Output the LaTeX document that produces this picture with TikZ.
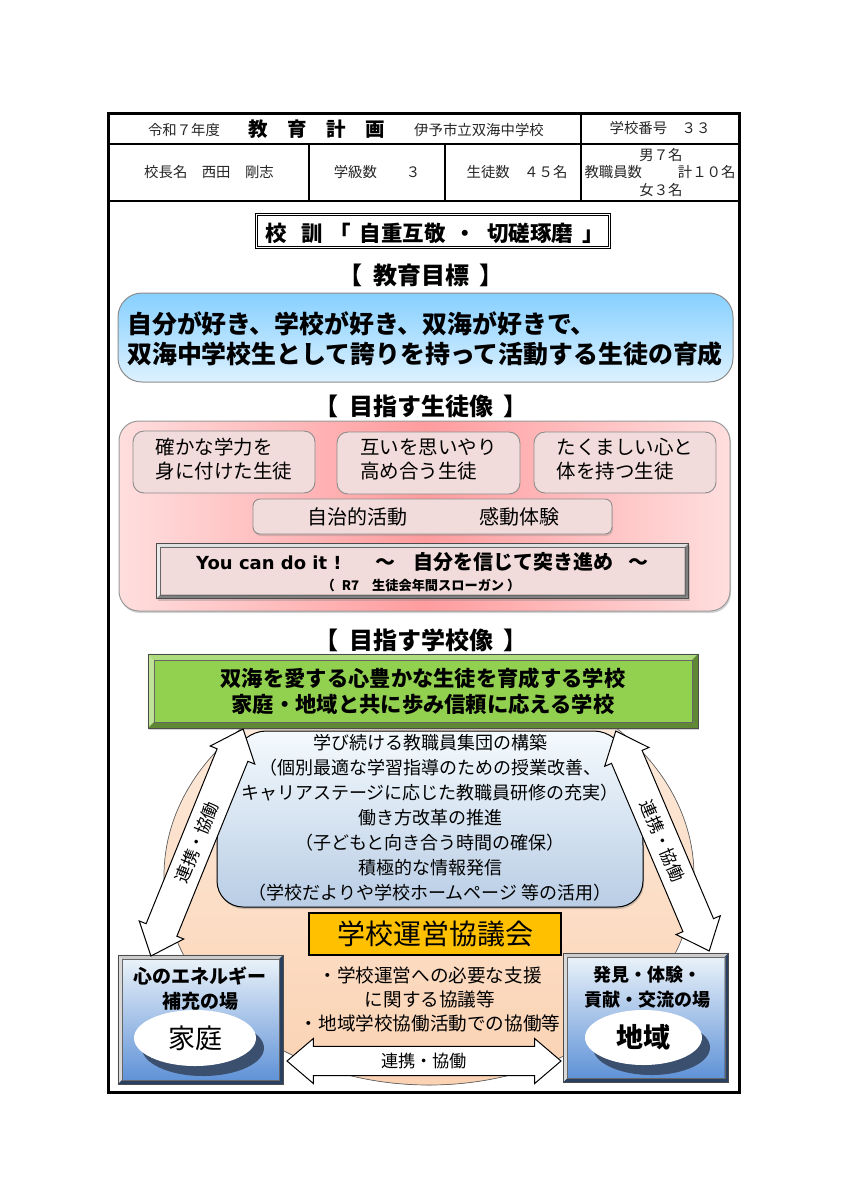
\documentclass[tikz,border=0pt]{standalone}
\usepackage{fontspec}
\setmainfont{Noto Sans CJK JP}
\newfontfamily\widelatin{DejaVu Sans}
\usetikzlibrary{calc,positioning,shadows,shapes.geometric,shapes.arrows}

\definecolor{goaltop}{HTML}{86D0FF}
\definecolor{goalbot}{HTML}{DDF1FF}
\definecolor{pinkedge}{HTML}{FFDEDE}
\definecolor{pinkmid}{HTML}{FF9C9E}
\definecolor{softpink}{HTML}{F2DCDB}
\definecolor{leafgreen}{HTML}{92D050}
\definecolor{peachtop}{HTML}{FDEDE0}
\definecolor{peachbot}{HTML}{FBD2B2}
\definecolor{steeltop}{HTML}{F4FAFD}
\definecolor{steelbot}{HTML}{B9CDE5}
\definecolor{placetop}{HTML}{EEF5FA}
\definecolor{placebot}{HTML}{5B8FD6}
\definecolor{amber}{HTML}{FFC000}
\definecolor{ovalshade}{HTML}{3B4F6E}

% four slanted edges round a named box
\newcommand{\bevelframe}[5]{
    \fill[#3] (#1.north west) -- (#1.north east) -- ($(#1.north east)+(-#2,#2)$) -- ($(#1.north west)+(#2,#2)$) -- cycle;
    \fill[#4] (#1.north west) -- (#1.south west) -- ($(#1.south west)+(#2,-#2)$) -- ($(#1.north west)+(#2,#2)$) -- cycle;
    \fill[#5] (#1.south west) -- (#1.south east) -- ($(#1.south east)+(-#2,-#2)$) -- ($(#1.south west)+(#2,-#2)$) -- cycle;
    \fill[#5] (#1.north east) -- (#1.south east) -- ($(#1.south east)+(-#2,-#2)$) -- ($(#1.north east)+(-#2,#2)$) -- cycle;
    \draw[black!70,line width=.6pt] (#1.north west) rectangle (#1.south east);
    \draw[black!60,line width=.4pt] ($(#1.north west)+(#2,#2)$) rectangle ($(#1.south east)+(-#2,-#2)$);
}

\begin{document}
\begin{tikzpicture}[x=1pt,y=-1pt,
  every node/.style={inner sep=0pt,align=center},
  cell/.style={font=\fontsize{14.4}{18}\selectfont,text=black!85},
  heading/.style={font=\fontsize{24}{26}\selectfont\bfseries},
  goalbox/.style={draw=black!45,line width=1pt,rounded corners=24pt,top color=goaltop,bottom color=goalbot},
  pinkbox/.style={draw=black!40,line width=1pt,rounded corners=20pt,left color=pinkedge,right color=pinkedge,middle color=pinkmid,
    drop shadow={shadow xshift=1pt,shadow yshift=-2pt,opacity=.35}},
  softbox/.style={draw=black!45,line width=.9pt,rounded corners=11pt,fill=softpink,
    font=\fontsize{19.5}{24}\selectfont,align=left},
  flatbox/.style={rectangle,fill=softpink,minimum width=532pt,minimum height=55pt},
  greenbox/.style={rectangle,fill=leafgreen,minimum width=550pt,minimum height=74pt,
    drop shadow={shadow xshift=1pt,shadow yshift=-2pt,opacity=.35}},
  placebox/.style={rectangle,top color=placetop,bottom color=placebot,minimum width=165pt,minimum height=129pt},
  placetext/.style={font=\fontsize{18}{25}\selectfont\bfseries},
  oval/.style={ellipse,fill=white,font=\fontsize{27}{30}\selectfont,
    drop shadow={shadow xshift=8pt,shadow yshift=-10pt,fill=ovalshade,opacity=1}},
  linkarrow/.style={double arrow,draw=black,fill=white,line width=1pt,inner ysep=7.5pt,
    double arrow tip angle=81,minimum width=48pt,font=\fontsize{17.2}{20}\selectfont}]

    \useasboundingbox (0,0) rectangle (849,1200);

    \draw[line width=3pt] (108,113) rectangle (739,1092);
    \draw[line width=1.2pt] (108,144) -- (739,144);
    \draw[line width=2pt] (108,201) -- (739,201);
    \draw[line width=1.2pt] (581,113) -- (581,201);
    \draw[line width=1.2pt] (309,144) -- (309,201);
    \draw[line width=1.2pt] (445,144) -- (445,201);

    \node[cell] (year) at (184,130) {令和７年度};
    \node[font=\fontsize{19.5}{22}\selectfont\bfseries] (plan) at (317,129) {教　育　計　画};
    \node[cell] (school) at (479,130) {伊予市立双海中学校};
    \node[cell] (number) at (660,128) {学校番号　３３};
    \node[cell] (principal) at (209,172) {校長名　西田　剛志};
    \node[cell] (classes) at (377,172) {学級数　　３};
    \node[cell] (pupils) at (517,172) {生徒数　４５名};
    \node[cell] (men) at (661,155) {男７名};
    \node[cell] (staff) at (660,172) {教職員数　　\hspace{7pt}計１０名};
    \node[cell] (women) at (661,190) {女３名};

    \node[draw,double,line width=1pt,double distance=1.5pt,minimum width=353pt,minimum height=33pt] (motto) at (433,231) {};
    \node[font=\fontsize{21.5}{24}\selectfont\bfseries,anchor=west] (mottotext) at (265,233)
      {校\hspace{15pt}訓\hspace{6pt}「\hspace{9pt}自重互敬\hspace{9pt}・\hspace{11pt}切磋琢磨\hspace{9pt}」};

    \node[heading] (goalhead) at (421,275) {【~~教育目標~~】};
    \node[goalbox,minimum width=615pt,minimum height=89pt] (goal) at (425.5,337.5) {};
    \node[font=\fontsize{24.9}{30}\selectfont\bfseries,align=left,anchor=west] (goaltext) at (127,339)
      {自分が好き、学校が好き、双海が好きで、\\双海中学校生として誇りを持って活動する生徒の育成};

    \node[heading] (pupilhead) at (421,406) {【~~目指す生徒像~~】};
    \node[pinkbox,minimum width=611pt,minimum height=190pt] (pupil) at (424.5,516) {};
    \node[softbox,text depth=8pt,minimum width=182pt,minimum height=62pt] (ability) at (224,462) {確かな学力を\\身に付けた生徒};
    \node[softbox,text depth=8pt,minimum width=183pt,minimum height=62pt] (respect) at (428.5,463) {互いを思いやり\\高め合う生徒};
    \node[softbox,text depth=8pt,minimum width=182pt,minimum height=61pt] (strong) at (625,462.5) {たくましい心と\\体を持つ生徒};
    \node[softbox,rounded corners=7pt,minimum width=359pt,minimum height=35pt,
      drop shadow={shadow xshift=1pt,shadow yshift=-2pt,opacity=.3}] (activity) at (432.5,516.5) {};
    \node[font=\fontsize{20}{24}\selectfont] (selfrule) at (357,517) {自治的活動};
    \node[font=\fontsize{20}{24}\selectfont] (moved) at (519,517) {感動体験};

    \node[flatbox,drop shadow={shadow xshift=1pt,shadow yshift=-2pt,opacity=.35}] (slogan) at (422.5,571) {};
    \bevelframe{slogan}{4}{black!12}{black!8}{black!50}
    \node[font=\fontsize{20}{24}\selectfont\bfseries,anchor=west] (slogantext) at (196,562)
      {{\widelatin\fontsize{18}{24}\selectfont You can do it !}\hspace{34pt}～\hspace{18pt}自分を信じて突き進め\hspace{15pt}～};
    \node[font=\fontsize{13.2}{15}\selectfont\bfseries] (slogannote) at (421,585)
      {（\hspace{7pt}R7\hspace{13pt}生徒会年間スローガン\hspace{3pt}）};

    \node[heading] (schoolhead) at (421,640) {【~~目指す学校像~~】};

    \fill[top color=peachtop,bottom color=peachbot] (429,876) ellipse [x radius=265,y radius=209];
    \draw[black!60,line width=.7pt] (429,876) ellipse [x radius=265,y radius=209];

    \node[greenbox] (vision) at (423,691) {};
    \bevelframe{vision}{6}{leafgreen!75!white}{leafgreen!60!white}{leafgreen!65!black}
    \node[font=\fontsize{21.3}{26}\selectfont\bfseries] (visiontext) at (423,691)
      {双海を愛する心豊かな生徒を育成する学校\\家庭・地域と共に歩み信頼に応える学校};

    \draw[black,line width=1pt,rounded corners=26pt,top color=steeltop,bottom color=steelbot,
      drop shadow={shadow xshift=1pt,shadow yshift=-2pt,opacity=.4}]
      (240,731) -- (620,731) -- (643,820) -- (643,907) -- (217,907) -- (217,820) -- cycle;
    \node[font=\fontsize{18}{25}\selectfont] (staffplan) at (430,818)
      {学び続ける教職員集団の構築\\（個別最適な学習指導のための授業改善、\\キャリアステージに応じた教職員研修の充実）\\働き方改革の推進\\（子どもと向き合う時間の確保）\\積極的な情報発信\\（学校だよりや学校ホームページ 等の活用）};

    \node[draw,fill=amber,line width=2pt,minimum width=252pt,minimum height=42pt,font=\fontsize{28}{30}\selectfont] (council) at (435,934) {学校運営協議会};
    \node[font=\fontsize{18.6}{24}\selectfont] (counciltext) at (430,999)
      {・学校運営への必要な支援\\に関する協議等\\・地域学校協働活動での協働等};

    \node[placebox] (home) at (200.5,1019.5) {};
    \bevelframe{home}{4}{black!20}{black!15}{black!55!placebot}
    \node[placetext,font=\fontsize{19}{25}\selectfont\bfseries] (hometext) at (200,989) {心のエネルギー\\補充の場};
    \node[oval,minimum width=122pt,minimum height=56pt] (family) at (195,1038) {家庭};

    \node[placebox] (area) at (646,1017.5) {};
    \bevelframe{area}{4}{black!20}{black!15}{black!55!placebot}
    \node[placetext] (areatext) at (647,987) {発見・体験・\\貢献・交流の場};
    \node[oval,minimum width=117pt,minimum height=55pt,font=\fontsize{27}{30}\selectfont\bfseries] (region) at (643.5,1037.5) {地域};

    \node[linkarrow,minimum height=245pt,rotate=67.9] (linkleft) at (197,842.5) {連携・協働};
    \node[linkarrow,minimum height=239pt,rotate=-67] (linkright) at (662.5,841) {連携・協働};
    \node[linkarrow,minimum height=274pt,minimum width=45pt,inner ysep=5pt] (linkbottom) at (424,1061) {連携・協働};
\end{tikzpicture}
\end{document}
